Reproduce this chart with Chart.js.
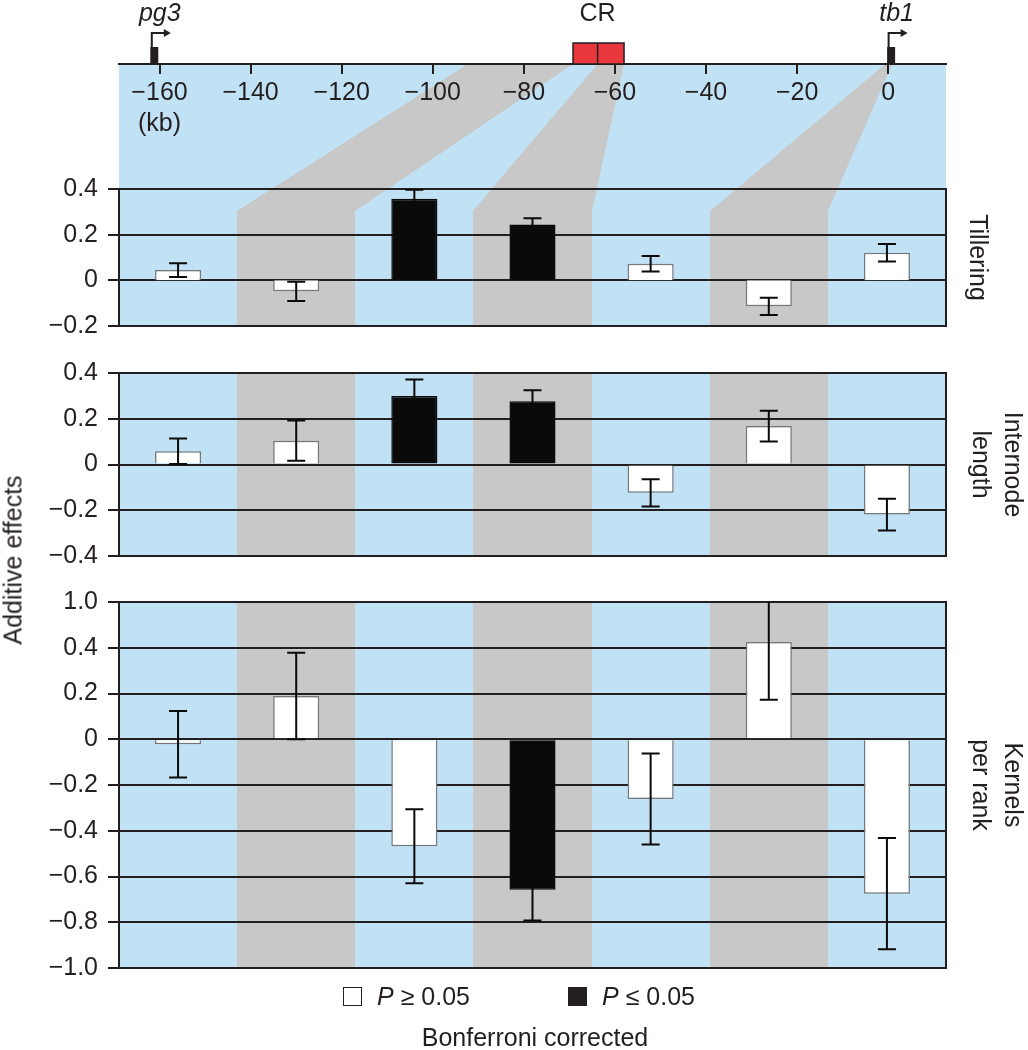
<!DOCTYPE html>
<html>
<head>
<meta charset="utf-8">
<script src="https://cdn.jsdelivr.net/npm/chart.js@4.4.0/dist/chart.umd.min.js"></script>
<style>
  body { margin: 0; width: 1028px; height: 1050px; position: relative; overflow: hidden; background: #fff;
         font-family: 'Liberation Sans', Arial, Helvetica, sans-serif; color: #231f20; }
  .box { position: absolute; left: 0; width: 1028px; }
  .txt { position: absolute; font-size: 25px; white-space: nowrap; line-height: 1; }
  .sq { position: absolute; width: 17px; height: 17px; border: 1.5px solid #231f20; }
</style>
</head>
<body>
<div class="box" style="top:0;height:212px"><canvas id="map"></canvas></div>
<div class="box" style="top:163px;height:189px"><canvas id="till"></canvas></div>
<div class="box" style="top:347px;height:235px"><canvas id="inter"></canvas></div>
<div class="box" style="top:576px;height:418px"><canvas id="kern"></canvas></div>

<div class="txt" style="left:13px;top:560px;transform:translate(-50%,-50%) rotate(-90deg)">Additive effects</div>
<div class="sq" style="left:343px;top:987px;background:#fff"></div>
<div class="txt" style="left:377px;top:984px"><i>P</i> ≥ 0.05</div>
<div class="sq" style="left:568px;top:987px;background:#231f20"></div>
<div class="txt" style="left:602px;top:984px"><i>P</i> ≤ 0.05</div>
<div class="txt" style="left:535px;top:1037px;transform:translate(-50%,-50%)">Bonferroni corrected</div>

<script>
// seven map segments under the tb1 region
const regions = ['1', '2', '3', '4', '5', '6', '7'];

const tillering    = [0.045, -0.048, 0.357, 0.245, 0.073, -0.114, 0.121];
const tilleringErr = [0.030, 0.042, 0.040, 0.027, 0.034, 0.038, 0.038];
const tilleringSig = [false, false, true, true, false, false, false];

const internode    = [0.058, 0.104, 0.299, 0.277, -0.124, 0.168, -0.219];
const internodeErr = [0.056, 0.088, 0.073, 0.048, 0.060, 0.067, 0.069];
const internodeSig = [false, false, true, true, false, false, false];

const kernels    = [-0.022, 0.189, -0.468, -0.658, -0.261, 0.425, -0.675];
const kernelsErr = [0.145, 0.189, 0.162, 0.134, 0.199, 0.252, 0.243];
const kernelsSig = [false, false, false, true, false, false, false];

const tilleringTicks = ['\u22120.2', '0', '0.2', '0.4'];
const internodeTicks = ['\u22120.4', '\u22120.2', '0', '0.2', '0.4'];
// top of the kernels axis is broken: the 0.6 gridline is labelled 1.0
const kernelsTicks = ['\u22121.0', '\u22120.8', '\u22120.6', '\u22120.4', '\u22120.2', '0', '0.2', '0.4', '1.0'];

// genomic map (kb)
const mapTicks = [['\u2212160', '(kb)'], '\u2212140', '\u2212120', '\u2212100', '\u221280', '\u221260', '\u221240', '\u221220', '0'];
const geneNames = ['pg3', 'tb1'];
const genePos = [-161.7, 0.1];
const crEdges = [-69.2, -63.8, -58.0];
const wedgeKb = [[-92.3, -69.2], [-63.8, -58.0], [-0.6, 0.9]];
const wedgeRegion = [1, 3, 5];

const ink = '#231f20';
const black = '#0a0a0a';
const blue = '#c1e2f5';
const gray = '#c8c8c8';
const FONT = "'Liberation Sans', Arial, Helvetica, sans-serif";

Chart.defaults.font.family = FONT;
Chart.defaults.font.size = 25;
Chart.defaults.color = ink;
Chart.defaults.animation = false;

const PAD = 26;     // room for half a tick label + tick padding
const CHAMFER = 22; // panel 1 bands start below the wedge ends

// shaded background columns, one per region
const bands = {
  id: 'bands',
  beforeDraw(chart, args, opts) {
    const { ctx, chartArea: a, scales: { x } } = chart;
    const w = (a.right - a.left) / regions.length;
    const skip = opts.skip || 0;
    ctx.save();
    regions.forEach((r, i) => {
      const c = x.getPixelForValue(i);
      const l = Math.round(c - w / 2), rr = Math.round(c + w / 2);
      ctx.fillStyle = i % 2 ? gray : blue;
      ctx.fillRect(l, a.top + skip, rr - l, a.bottom - a.top - skip);
    });
    ctx.restore();
  }
};

const errorBars = {
  id: 'errorBars',
  afterDatasetsDraw(chart) {
    const { ctx, chartArea: a, scales: { y } } = chart;
    const ds = chart.data.datasets[0];
    ctx.save();
    ctx.beginPath();
    ctx.rect(a.left, a.top, a.right - a.left, a.bottom - a.top);
    ctx.clip();
    ctx.strokeStyle = black;
    ctx.lineWidth = 2;
    chart.getDatasetMeta(0).data.forEach((bar, i) => {
      const v = ds.data[i], e = ds.errors[i];
      const hi = y.getPixelForValue(v + e), lo = y.getPixelForValue(v - e);
      ctx.beginPath();
      ctx.moveTo(bar.x, hi); ctx.lineTo(bar.x, lo);
      ctx.moveTo(bar.x - 9, hi); ctx.lineTo(bar.x + 9, hi);
      ctx.moveTo(bar.x - 9, lo); ctx.lineTo(bar.x + 9, lo);
      ctx.stroke();
    });
    ctx.restore();
  }
};

function panel(id, values, errors, sig, min, max, tickLabels, title, titlePad, skip) {
  return new Chart(document.getElementById(id), {
    type: 'bar',
    data: {
      labels: regions,
      datasets: [{
        data: values,
        errors: errors,
        backgroundColor: sig.map(s => s ? black : '#ffffff'),
        borderColor: sig.map(s => s ? black : '#77787b'),
        borderWidth: 1.5,
        barPercentage: 0.39,
        categoryPercentage: 1
      }]
    },
    options: {
      responsive: true,
      maintainAspectRatio: false,
      layout: { padding: { top: PAD, bottom: PAD, left: 0, right: 0 } },
      plugins: { legend: { display: false }, tooltip: { enabled: false }, bands: { skip: skip } },
      scales: {
        x: { type: 'category', display: false },
        y: {
          min: min, max: max,
          afterFit: s => { s.width = 119; },
          ticks: { stepSize: 0.2, padding: 10, callback: (v, i) => tickLabels[i] },
          grid: { color: ink, lineWidth: 2, tickLength: 11 },
          border: { display: true, color: ink, width: 2 }
        },
        y2: {
          position: 'right',
          afterFit: s => { s.width = 82; },
          ticks: { display: false },
          grid: { display: false, drawTicks: false },
          border: { display: true, color: ink, width: 2 },
          title: { display: true, text: title, color: ink, font: { size: 25, lineHeight: 1.28 }, padding: { top: titlePad, bottom: 0 } }
        }
      }
    },
    plugins: [bands, errorBars]
  });
}

// genomic map on top, with wedges leading into the region columns
const mapDecor = {
  id: 'mapDecor',
  beforeDraw(chart) {
    const { ctx, chartArea: a, scales: { x } } = chart;
    const H = chart.height;
    const w = (a.right - a.left) / regions.length;
    ctx.save();
    ctx.fillStyle = blue;
    ctx.fillRect(a.left, a.bottom, a.right - a.left, H - a.bottom);
    ctx.fillStyle = gray;
    wedgeKb.forEach((k, j) => {
      const r = wedgeRegion[j];
      const bl = Math.round(a.left + r * w), br = Math.round(a.left + (r + 1) * w);
      ctx.beginPath();
      ctx.moveTo(x.getPixelForValue(k[0]), a.bottom);
      ctx.lineTo(x.getPixelForValue(k[1]), a.bottom);
      ctx.lineTo(br, H - 1);
      ctx.lineTo(br, H);
      ctx.lineTo(bl, H);
      ctx.lineTo(bl, H - 1);
      ctx.closePath();
      ctx.fill();
    });
    ctx.restore();
  },
  afterDraw(chart) {
    const { ctx, chartArea: a, scales: { x } } = chart;
    const base = a.bottom;
    ctx.save();
    ctx.fillStyle = ink;
    ctx.strokeStyle = ink;
    // genes with transcription arrows
    geneNames.forEach((g, i) => {
      const gx = x.getPixelForValue(genePos[i]);
      ctx.fillRect(gx - 1.5, base - 17, 8, 17);
      ctx.lineWidth = 2;
      ctx.beginPath();
      ctx.moveTo(gx, base - 17); ctx.lineTo(gx, base - 31); ctx.lineTo(gx + 13, base - 31);
      ctx.stroke();
      ctx.beginPath();
      ctx.moveTo(gx + 12, base - 35); ctx.lineTo(gx + 19, base - 31); ctx.lineTo(gx + 12, base - 27);
      ctx.closePath(); ctx.fill();
      ctx.font = 'italic 25px ' + FONT;
      ctx.textAlign = 'center';
      ctx.textBaseline = 'alphabetic';
      ctx.fillText(g, gx + 8, 21);
    });
    // CR box
    const c0 = x.getPixelForValue(crEdges[0]), c1 = x.getPixelForValue(crEdges[1]), c2 = x.getPixelForValue(crEdges[2]);
    ctx.fillStyle = '#e8373d';
    ctx.fillRect(c0, base - 21, c2 - c0, 21);
    ctx.lineWidth = 1.5;
    ctx.strokeRect(c0, base - 21, c2 - c0, 21);
    ctx.beginPath(); ctx.moveTo(c1, base - 21); ctx.lineTo(c1, base); ctx.stroke();
    ctx.fillStyle = ink;
    ctx.font = '25px ' + FONT;
    ctx.textAlign = 'center';
    ctx.fillText('CR', c1, 21);
    ctx.restore();
  }
};

new Chart(document.getElementById('map'), {
  type: 'scatter',
  data: { datasets: [] },
  options: {
    responsive: true,
    maintainAspectRatio: false,
    layout: { padding: { top: 0, bottom: 0, left: 119, right: 82 } },
    plugins: { legend: { display: false }, tooltip: { enabled: false } },
    scales: {
      x: {
        type: 'linear', position: 'bottom',
        min: -168.9, max: 12.7,
        afterFit: s => { s.height = 148; },
        ticks: { stepSize: 20, includeBounds: false, padding: 4, maxRotation: 0, autoSkip: false,
                 font: { size: 25, lineHeight: 1.22 }, callback: (v, i) => mapTicks[i] },
        grid: { drawOnChartArea: false, color: ink, lineWidth: 2, tickLength: 10 },
        border: { display: true, color: ink, width: 2 }
      },
      y: { display: false, min: 0, max: 1 }
    }
  },
  plugins: [mapDecor]
});

panel('till', tillering, tilleringErr, tilleringSig, -0.2, 0.4, tilleringTicks, 'Tillering', 35, CHAMFER);
panel('inter', internode, internodeErr, internodeSig, -0.4, 0.4, internodeTicks, ['Internode', 'length'], 0, 0);
panel('kern', kernels, kernelsErr, kernelsSig, -1.0, 0.6, kernelsTicks, ['Kernels', 'per rank'], 0, 0);
</script>
</body>
</html>
